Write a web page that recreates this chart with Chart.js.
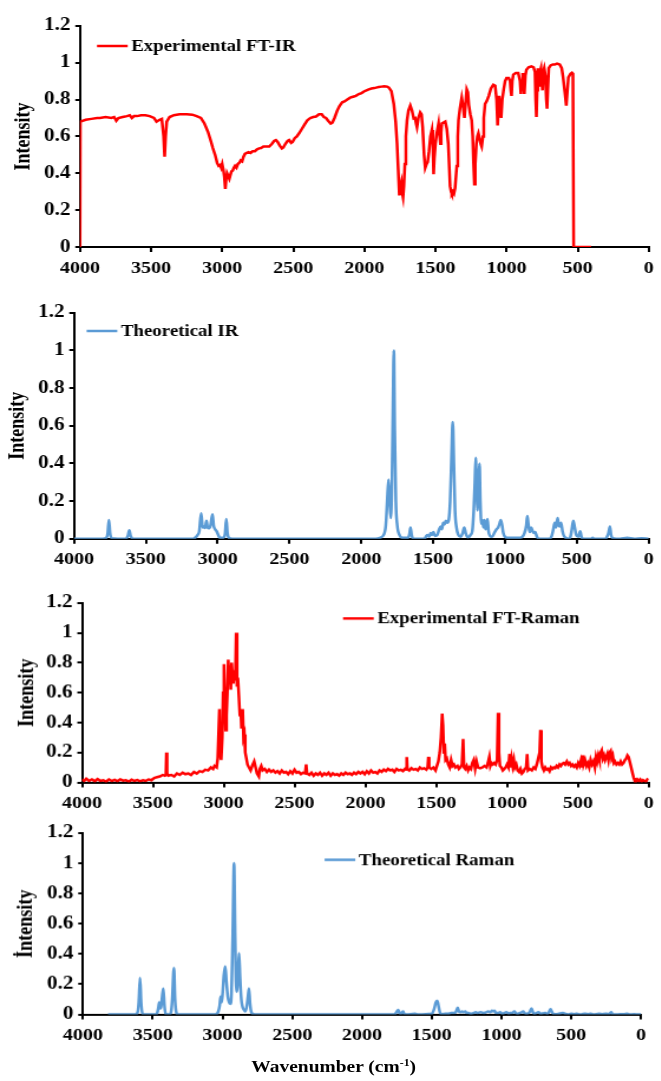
<!DOCTYPE html>
<html>
<head>
<meta charset="utf-8">
<script src="https://cdn.jsdelivr.net/npm/chart.js@4.4.0/dist/chart.umd.min.js"></script>
<style>
  html, body { margin: 0; padding: 0; background: #fff; }
  body { width: 661px; height: 1081px; overflow: hidden; position: relative; }
  /* the original figure is a bit stretched sideways, so draw narrow and scale x */
  #stage { position: absolute; left: 0; top: 0; width: 560px; height: 1081px; transform: scaleX(1.18); transform-origin: 0 0; }
  .box { position: absolute; left: 0; width: 560px; }
  #xtitle { position: absolute; left: 213px; top: 1057px; font: bold 16.5px "Liberation Serif", "Times New Roman", serif; line-height: 20px; white-space: nowrap; color: #000; }
  #xtitle sup { font-size: 10px; line-height: 0; }
</style>
</head>
<body>
<div id="stage">
  <div class="box" style="top:11px;height:270px"><canvas id="c1"></canvas></div>
  <div class="box" style="top:297.6px;height:274.7px"><canvas id="c2"></canvas></div>
  <div class="box" style="top:588px;height:227.5px"><canvas id="c3"></canvas></div>
  <div class="box" style="top:818.4px;height:229.6px"><canvas id="c4"></canvas></div>
  <div id="xtitle">Wavenumber (cm<sup>-1</sup>)</div>
</div>
<script>
// axis ticks shared by all four panels
const xTicks = [4000, 3500, 3000, 2500, 2000, 1500, 1000, 500, 0];
const yTicks = [0, 0.2, 0.4, 0.6, 0.8, 1, 1.2];

// Experimental FT-IR
const irExpWn = [4000,3998,3960,3920,3880,3860,3820,3780,3760,3745,3730,3700,3670,3650,3635,3620,3600,3570,3540,3510,3480,3462,3440,3425,3412,3405,3398,3390,3370,3340,3300,3250,3210,3180,3150,3125,3100,3080,3066,3050,3035,3025,3015,3007,3000,2992,2985,2978,2972,2966,2958,2950,2943,2935,2926,2918,2910,2900,2890,2879,2870,2860,2850,2840,2830,2815,2800,2786,2770,2755,2740,2727,2710,2690,2669,2650,2635,2622,2610,2595,2580,2570,2555,2540,2529,2515,2505,2490,2475,2459,2440,2420,2401,2380,2360,2340,2319,2300,2285,2270,2255,2237,2225,2210,2191,2175,2156,2140,2120,2100,2080,2060,2039,2020,2000,1985,1969,1950,1930,1910,1899,1880,1860,1840,1828,1810,1793,1780,1770,1762,1754,1746,1740,1735,1728,1722,1715,1708,1700,1690,1677,1665,1653,1643,1636,1630,1620,1607,1598,1590,1580,1572,1563,1555,1545,1535,1525,1518,1513,1508,1500,1490,1478,1470,1465,1460,1455,1443,1431,1420,1410,1402,1397,1390,1385,1378,1370,1362,1350,1343,1338,1328,1315,1305,1296,1288,1280,1272,1265,1255,1245,1238,1232,1226,1220,1212,1205,1198,1190,1182,1175,1166,1160,1151,1140,1125,1110,1093,1080,1070,1063,1057,1052,1045,1038,1030,1020,1010,1000,985,975,970,965,960,952,935,918,905,899,893,886,880,875,868,860,845,825,810,800,795,790,785,780,775,770,765,758,752,747,742,735,727,720,715,710,703,690,675,661,645,626,612,603,590,580,572,565,550,540,533,528,405];
const irExpI = [0,0.68,0.69,0.695,0.70,0.70,0.705,0.70,0.705,0.685,0.70,0.705,0.71,0.715,0.70,0.71,0.71,0.715,0.715,0.71,0.70,0.68,0.69,0.695,0.6,0.49,0.6,0.68,0.705,0.715,0.72,0.72,0.718,0.71,0.70,0.67,0.625,0.575,0.537,0.5,0.455,0.44,0.445,0.43,0.45,0.42,0.38,0.315,0.37,0.40,0.385,0.37,0.39,0.41,0.415,0.43,0.44,0.43,0.45,0.457,0.47,0.465,0.49,0.505,0.51,0.515,0.51,0.52,0.52,0.53,0.535,0.537,0.545,0.545,0.545,0.56,0.575,0.58,0.57,0.55,0.535,0.54,0.56,0.575,0.58,0.565,0.57,0.59,0.6,0.617,0.64,0.665,0.687,0.70,0.705,0.708,0.72,0.72,0.705,0.70,0.685,0.67,0.675,0.7,0.74,0.765,0.785,0.79,0.8,0.81,0.815,0.82,0.83,0.835,0.845,0.85,0.855,0.86,0.862,0.866,0.868,0.87,0.872,0.87,0.865,0.845,0.776,0.68,0.56,0.42,0.28,0.33,0.35,0.3,0.27,0.33,0.45,0.6,0.687,0.74,0.767,0.74,0.697,0.7,0.67,0.65,0.7,0.73,0.72,0.65,0.5,0.43,0.45,0.46,0.52,0.6,0.635,0.55,0.395,0.48,0.56,0.62,0.67,0.6,0.56,0.62,0.67,0.675,0.68,0.64,0.56,0.42,0.33,0.3,0.29,0.3,0.29,0.32,0.44,0.6,0.687,0.75,0.81,0.76,0.70,0.78,0.855,0.84,0.77,0.72,0.687,0.6,0.45,0.34,0.45,0.56,0.6,0.617,0.59,0.56,0.545,0.6,0.7,0.776,0.79,0.82,0.86,0.88,0.875,0.8,0.66,0.75,0.82,0.75,0.70,0.8,0.855,0.9,0.917,0.917,0.9,0.85,0.82,0.9,0.935,0.944,0.944,0.9,0.83,0.9,0.944,0.9,0.83,0.93,0.962,0.975,0.98,0.975,0.95,0.8,0.705,0.85,0.97,0.9,0.87,0.95,0.97,0.9,0.85,0.95,0.97,0.93,0.8,0.75,0.85,0.97,0.985,0.99,0.99,0.995,0.99,0.97,0.925,0.84,0.767,0.85,0.92,0.94,0.945,0.94,0,0];

// Theoretical IR
const irThWn = [4000,3800,3775,3765,3757,3749,3738,3640,3625,3615,3606,3590,3170,3150,3140,3128,3115,3105,3095,3088,3078,3070,3060,3050,3036,3028,3018,3008,2996,2985,2960,2948,2940,2932,2920,2900,1900,1870,1845,1830,1820,1811,1803,1795,1787,1780,1774,1768,1760,1750,1735,1715,1675,1665,1658,1650,1640,1560,1548,1538,1528,1518,1508,1498,1488,1472,1458,1448,1440,1430,1422,1412,1402,1392,1382,1372,1364,1356,1348,1338,1325,1310,1295,1284,1274,1262,1250,1240,1228,1218,1210,1204,1197,1192,1185,1178,1172,1165,1158,1150,1143,1136,1128,1122,1115,1105,1090,1075,1060,1048,1038,1030,1020,1012,1000,980,900,880,865,852,845,838,828,818,808,798,790,778,765,690,675,664,654,645,634,626,618,610,600,590,578,560,545,535,525,515,505,490,477,468,458,400,390,380,300,290,280,270,262,250,200,150,100,50,0];
const irThI = [0,0,0.005,0.03,0.1,0.03,0.003,0,0.015,0.045,0.015,0,0,0.01,0.02,0.04,0.135,0.06,0.065,0.057,0.095,0.06,0.055,0.07,0.13,0.07,0.05,0.04,0.02,0.005,0.005,0.03,0.105,0.03,0.003,0,0,0.005,0.02,0.07,0.2,0.315,0.2,0.11,0.3,0.7,1.0,0.6,0.2,0.07,0.02,0.005,0.005,0.025,0.06,0.02,0,0,0.015,0.02,0.01,0.03,0.02,0.035,0.015,0.02,0.05,0.065,0.05,0.085,0.075,0.095,0.085,0.1,0.2,0.45,0.62,0.4,0.15,0.06,0.02,0.01,0.03,0.06,0.03,0.008,0.01,0.02,0.04,0.15,0.3,0.43,0.25,0.15,0.3,0.4,0.2,0.08,0.1,0.06,0.1,0.05,0.07,0.105,0.04,0.015,0.01,0.03,0.05,0.06,0.08,0.1,0.07,0.03,0.01,0.005,0.005,0.01,0.03,0.07,0.12,0.08,0.035,0.06,0.04,0.03,0.035,0.01,0,0,0.015,0.05,0.085,0.06,0.11,0.07,0.065,0.085,0.04,0.015,0.005,0,0.01,0.05,0.095,0.06,0.02,0.01,0.04,0.01,0,0,0.005,0,0,0.01,0.03,0.065,0.02,0.003,0,0.005,0,0.003,0];

// Experimental FT-Raman
const ramExpWn = [4000,3985,3970,3950,3930,3910,3890,3870,3850,3830,3810,3790,3770,3750,3730,3710,3690,3670,3650,3630,3610,3590,3570,3550,3530,3510,3490,3470,3450,3430,3415,3408,3404,3400,3390,3370,3350,3330,3310,3290,3270,3250,3230,3210,3190,3170,3150,3130,3110,3090,3075,3065,3050,3042,3030,3026,3018,3010,3004,2998,2992,2986,2980,2974,2968,2962,2956,2950,2944,2938,2932,2926,2918,2912,2906,2900,2893,2886,2880,2874,2866,2860,2854,2848,2840,2832,2822,2810,2795,2785,2775,2765,2752,2745,2735,2725,2710,2695,2680,2665,2650,2635,2620,2605,2590,2575,2560,2545,2530,2515,2500,2485,2470,2455,2440,2425,2418,2412,2395,2380,2365,2350,2335,2320,2305,2290,2275,2260,2245,2230,2215,2200,2185,2170,2155,2140,2125,2110,2095,2080,2065,2050,2035,2020,2005,1990,1975,1960,1945,1930,1915,1900,1885,1870,1855,1840,1825,1810,1795,1780,1765,1750,1735,1720,1712,1708,1704,1690,1675,1660,1645,1630,1615,1600,1585,1570,1560,1555,1550,1535,1520,1505,1495,1485,1475,1466,1458,1452,1446,1440,1434,1425,1415,1405,1395,1385,1375,1365,1350,1340,1330,1318,1310,1304,1295,1285,1275,1265,1255,1245,1235,1225,1215,1205,1190,1175,1160,1145,1135,1125,1118,1110,1100,1090,1080,1070,1063,1057,1050,1040,1030,1020,1010,1000,990,982,976,968,960,952,945,935,925,915,905,895,885,875,865,858,852,840,825,812,800,790,780,770,764,758,750,740,730,720,710,700,690,680,670,660,650,640,630,620,610,600,590,578,568,558,548,538,528,518,508,498,488,480,474,466,460,450,440,430,420,410,400,390,380,372,364,356,348,340,332,324,316,308,300,292,284,276,269,262,254,246,238,228,218,208,198,188,178,168,158,150,142,134,124,114,106,98,90,80,70,60,50,40,30,20,10,2];
const ramExpI = [0.02,0.01,0.025,0.01,0.02,0.008,0.022,0.01,0.015,0.005,0.02,0.01,0.018,0.008,0.02,0.012,0.015,0.005,0.018,0.01,0.016,0.008,0.015,0.01,0.02,0.015,0.03,0.035,0.04,0.05,0.045,0.05,0.20,0.06,0.045,0.05,0.04,0.06,0.05,0.065,0.055,0.06,0.05,0.07,0.06,0.075,0.07,0.085,0.08,0.1,0.09,0.11,0.1,0.16,0.49,0.2,0.15,0.3,0.6,0.79,0.55,0.35,0.45,0.6,0.82,0.7,0.78,0.62,0.8,0.72,0.66,0.75,0.68,1.0,0.64,0.7,0.58,0.45,0.49,0.36,0.49,0.3,0.32,0.2,0.16,0.12,0.1,0.08,0.12,0.14,0.1,0.06,0.04,0.09,0.11,0.08,0.09,0.07,0.085,0.07,0.08,0.065,0.075,0.06,0.08,0.065,0.07,0.055,0.075,0.06,0.085,0.065,0.07,0.055,0.065,0.06,0.12,0.06,0.05,0.065,0.045,0.06,0.05,0.065,0.045,0.06,0.05,0.065,0.045,0.06,0.05,0.055,0.045,0.06,0.05,0.065,0.055,0.06,0.05,0.065,0.055,0.07,0.06,0.07,0.055,0.075,0.06,0.08,0.065,0.07,0.06,0.08,0.07,0.085,0.075,0.09,0.08,0.085,0.07,0.09,0.08,0.085,0.075,0.09,0.085,0.17,0.09,0.08,0.095,0.085,0.09,0.08,0.1,0.09,0.095,0.085,0.1,0.17,0.1,0.09,0.1,0.08,0.11,0.14,0.2,0.3,0.46,0.38,0.2,0.26,0.15,0.16,0.12,0.1,0.15,0.11,0.12,0.1,0.11,0.09,0.1,0.12,0.29,0.1,0.09,0.11,0.08,0.1,0.09,0.13,0.15,0.09,0.14,0.1,0.095,0.1,0.11,0.1,0.13,0.17,0.11,0.13,0.12,0.13,0.12,0.15,0.465,0.2,0.11,0.1,0.08,0.09,0.1,0.12,0.1,0.19,0.1,0.16,0.11,0.15,0.1,0.12,0.08,0.07,0.09,0.06,0.07,0.09,0.1,0.19,0.08,0.09,0.08,0.1,0.09,0.12,0.16,0.2,0.35,0.14,0.1,0.08,0.1,0.085,0.09,0.075,0.1,0.09,0.1,0.095,0.11,0.1,0.12,0.11,0.125,0.13,0.12,0.14,0.12,0.13,0.11,0.12,0.105,0.115,0.1,0.13,0.11,0.14,0.1,0.18,0.12,0.15,0.11,0.13,0.1,0.15,0.12,0.14,0.1,0.17,0.14,0.18,0.15,0.2,0.215,0.16,0.18,0.15,0.17,0.19,0.15,0.2,0.21,0.16,0.18,0.13,0.14,0.12,0.13,0.12,0.14,0.12,0.13,0.15,0.16,0.18,0.17,0.14,0.1,0.06,0.03,0.01,0.005,0.02,0.01,0.02,0.005,0.015,0.01,0.005,0.02,0.015];

// Theoretical Raman
const ramThWn = [3820,3630,3610,3600,3591,3583,3573,3560,3480,3468,3460,3453,3446,3440,3432,3424,3416,3408,3380,3368,3360,3348,3340,3330,3320,3060,3040,3030,3020,3013,3006,2998,2990,2980,2972,2962,2952,2942,2935,2927,2917,2909,2900,2893,2887,2881,2874,2865,2856,2845,2835,2825,2817,2810,2803,2793,2780,2760,1780,1760,1750,1740,1732,1720,1712,1705,1698,1680,1620,1600,1500,1485,1470,1460,1450,1440,1425,1400,1380,1360,1340,1325,1314,1305,1295,1283,1270,1260,1250,1235,1220,1200,1185,1170,1150,1130,1110,1095,1080,1068,1058,1050,1040,1025,1010,995,980,965,950,935,920,908,898,885,870,855,845,835,820,805,795,785,775,765,750,735,720,700,685,672,660,648,640,630,610,590,560,540,520,500,480,460,440,420,400,380,360,340,300,280,250,230,212,205,180,150,120,100,80,50,20,0];
const ramThI = [0,0,0.01,0.08,0.243,0.08,0.005,0,0,0.01,0.04,0.08,0.04,0.05,0.12,0.172,0.06,0.005,0,0.02,0.1,0.308,0.1,0.01,0,0,0.005,0.02,0.06,0.118,0.08,0.15,0.26,0.318,0.22,0.12,0.08,0.07,0.15,0.5,1.0,0.5,0.15,0.18,0.3,0.405,0.25,0.1,0.05,0.03,0.02,0.06,0.12,0.172,0.08,0.015,0.003,0,0,0.005,0.02,0.03,0.01,0.005,0.015,0.02,0.005,0,0.005,0,0.005,0.03,0.08,0.09,0.05,0.01,0.003,0.005,0.005,0.01,0.01,0.02,0.045,0.02,0.015,0.02,0.015,0.02,0.01,0.01,0.005,0.01,0.015,0.01,0.015,0.01,0.015,0.02,0.015,0.025,0.02,0.025,0.01,0.01,0.015,0.005,0.01,0.015,0.008,0.01,0.012,0.02,0.01,0.005,0.01,0.015,0.02,0.01,0.005,0.01,0.02,0.04,0.015,0.005,0.01,0.015,0.005,0.008,0.01,0.005,0.015,0.035,0.02,0.005,0.003,0.005,0.01,0.005,0,0.005,0.003,0.005,0,0.003,0.005,0.003,0.005,0,0.005,0.003,0.005,0.003,0.015,0.002,0,0.003,0.002,0.005,0,0.003,0,0];

const FONT = '"Liberation Serif", "Times New Roman", serif';
const RED = '#ff0000';
const BLUE = '#5b9bd5';

function pts(wn, val) {
  return wn.map((w, i) => ({x: w, y: val[i]}));
}

// legend drawn inside the plot (line sample + label), like the excel figure
const legendInside = {
  id: 'legendInside',
  afterDatasetsDraw(chart, args, opts) {
    const ctx = chart.ctx;
    const ds = chart.data.datasets[0];
    ctx.save();
    ctx.strokeStyle = ds.borderColor;
    ctx.lineWidth = 2.5;
    ctx.beginPath();
    ctx.moveTo(opts.x, opts.y);
    ctx.lineTo(opts.x + 26, opts.y);
    ctx.stroke();
    ctx.fillStyle = '#000';
    ctx.font = 'bold 16px ' + FONT;
    ctx.textBaseline = 'middle';
    ctx.fillText(ds.label, opts.x + 29, opts.y + 1);
    ctx.restore();
  }
};

function makeChart(id, p) {
  return new Chart(document.getElementById(id), {
    type: 'line',
    data: {
      datasets: [{
        label: p.label,
        data: pts(p.wn, p.val),
        borderColor: p.color,
        borderWidth: p.width,
        pointRadius: 0,
        tension: 0,
        cubicInterpolationMode: p.smooth ? 'monotone' : 'default',
        fill: false
      }]
    },
    options: {
      responsive: true,
      maintainAspectRatio: false,
      animation: false,
      events: [],
      layout: {padding: {left: 0, right: p.right, top: 10, bottom: 0}},
      plugins: {
        legend: {display: false},
        tooltip: {enabled: false},
        legendInside: {x: p.legendX, y: p.legendY}
      },
      scales: {
        x: {
          type: 'linear', min: 0, max: 4000, reverse: true,
          afterBuildTicks: s => { s.ticks = xTicks.map(v => ({value: v})); },
          afterFit: s => { s.height = 34; },
          grid: {drawOnChartArea: false, drawTicks: true, tickLength: 5, color: '#000', lineWidth: 2},
          border: {display: true, color: '#000', width: 2},
          ticks: {color: '#000', padding: 6, maxRotation: 0, font: {family: FONT, size: 17, weight: 'bold'},
                  callback: v => String(v)}
        },
        y: {
          min: 0, max: 1.2,
          afterBuildTicks: s => { s.ticks = yTicks.map(v => ({value: v})); },
          afterFit: s => { s.width = p.left; },
          grid: {drawOnChartArea: false, drawTicks: true, tickLength: 4, color: '#000', lineWidth: 2},
          border: {display: true, color: '#000', width: 2},
          ticks: {color: '#000', padding: 4, font: {family: FONT, size: 18, weight: 'bold'},
                  callback: v => String(v)},
          title: {display: true, text: p.ytitle, color: '#000', padding: {top: p.titlePad, bottom: 0},
                  font: {family: FONT, size: 18, weight: 'bold'}}
        }
      }
    },
    plugins: [legendInside]
  });
}

makeChart('c1', {label: 'Experimental FT-IR', wn: irExpWn, val: irExpI, color: RED, width: 2.5, smooth: false,
  left: 67.8, right: 8.3, legendX: 82.2, legendY: 35, titlePad: 10, ytitle: 'Intensity'});
makeChart('c2', {label: 'Theoretical IR', wn: irThWn, val: irThI, color: BLUE, width: 2.5, smooth: true,
  left: 62.7, right: 4.1, legendX: 73.4, legendY: 33, titlePad: 5, ytitle: 'Intensity'});
makeChart('c3', {label: 'Experimental FT-Raman', wn: ramExpWn, val: ramExpI, color: RED, width: 2.5, smooth: false,
  left: 69.5, right: 9.2, legendX: 290.7, legendY: 30.3, titlePad: 13, ytitle: 'Intensity'});
makeChart('c4', {label: 'Theoretical Raman', wn: ramThWn, val: ramThI, color: BLUE, width: 2.5, smooth: true,
  left: 70.3, right: 16.8, legendX: 275.1, legendY: 41.6, titlePad: 12, ytitle: 'İntensity'});
</script>
</body>
</html>
